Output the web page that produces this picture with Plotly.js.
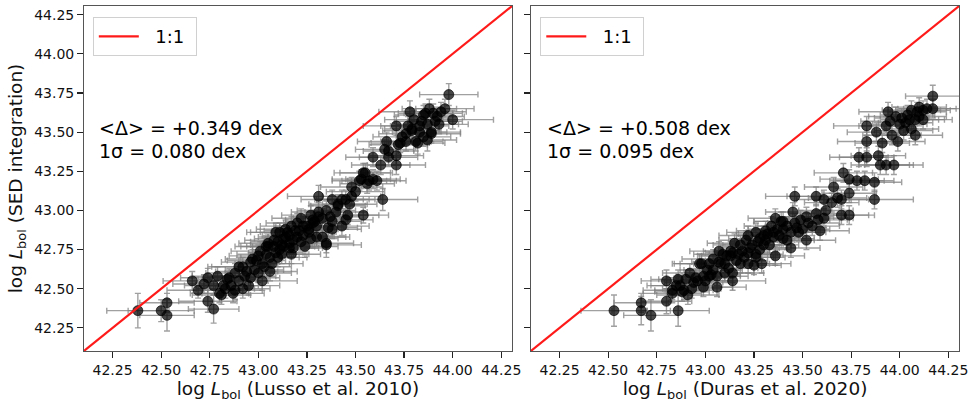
<!DOCTYPE html>
<html>
<head>
<meta charset="utf-8">
<script src="https://cdn.plot.ly/plotly-3.0.1.min.js"></script>
<style>
  html, body { margin: 0; padding: 0; background: #fff; }
  #plot { width: 977px; height: 408px; }
</style>
</head>
<body>
<div id="plot"></div>
<script>
// left panel: Lusso et al. 2010 vs SED integration
const xLusso = [
  42.38, 42.50, 42.53, 42.53, 42.74, 42.77, 42.66, 42.74, 42.79, 42.69,
  42.81, 42.88, 42.95, 43.02, 42.84, 42.90, 42.97, 43.00, 43.04, 43.09,
  43.14, 43.17, 43.22, 43.24, 43.28, 43.31, 43.31, 43.35, 43.38, 43.41,
  43.45, 43.48, 43.45, 43.54, 43.53, 43.59, 43.55, 43.64, 43.63, 43.59,
  43.71, 43.67, 43.66, 43.71, 43.71, 43.73, 43.76, 43.78, 43.79, 43.82,
  43.83, 43.86, 43.87, 43.88, 43.89, 43.92, 43.94, 43.96, 43.98, 44.00,
  43.91, 43.85, 43.83, 43.72, 43.76, 43.65, 43.57, 43.61, 43.52, 43.38,
  43.41, 43.47, 43.48, 43.46, 43.35, 43.31, 43.38, 43.43, 43.23, 43.19,
  43.26, 43.16, 43.11, 43.12, 43.08, 43.05, 43.04, 43.09, 42.96, 42.92,
  42.88, 42.85, 43.18, 43.35, 43.30, 42.93, 42.80, 42.82, 43.05, 43.11,
  43.13, 43.16, 43.17, 43.25, 43.29, 43.33, 43.36, 43.28, 43.54, 43.79,
  43.89, 43.81, 43.67, 42.98, 43.02, 43.06, 42.86, 42.90, 43.12, 43.20,
  43.26, 43.14, 43.22,
  42.83, 42.87, 42.92, 42.96, 43.00, 43.03, 43.01, 43.07, 43.08, 43.10,
  43.13, 43.15, 43.18, 43.21, 43.23, 43.27, 43.30, 43.33, 43.20, 43.10,
  42.99, 42.94, 43.06, 43.16, 43.27, 43.37, 43.40, 43.43, 43.50, 43.56,
  43.80, 43.84, 43.87, 43.90, 43.77, 43.74, 43.85, 43.93, 42.72, 42.77
];
const ySedLusso = [
  42.36, 42.36, 42.41, 42.33, 42.42, 42.37, 42.55, 42.57, 42.58, 42.49,
  42.46, 42.49, 42.52, 42.55, 42.56, 42.64, 42.69, 42.71, 42.77, 42.86,
  42.83, 42.90, 42.95, 42.77, 42.92, 42.99, 43.09, 42.78, 42.88, 43.03,
  43.07, 43.15, 42.94, 42.97, 43.20, 43.20, 43.24, 43.07, 43.29, 43.34,
  43.29, 43.38, 43.44, 43.35, 43.54, 43.43, 43.49, 43.63, 43.51, 43.43,
  43.54, 43.62, 43.45, 43.65, 43.50, 43.60, 43.63, 43.65, 43.74, 43.58,
  43.57, 43.61, 43.50, 43.42, 43.44, 43.39, 43.19, 43.19, 43.19, 43.07,
  43.04, 43.04, 43.09, 42.97, 43.00, 42.96, 42.93, 42.90, 42.90, 42.87,
  42.88, 42.84, 42.86, 42.78, 42.81, 42.77, 42.72, 42.73, 42.67, 42.64,
  42.60, 42.57, 42.76, 42.79, 42.83, 42.58, 42.47, 42.52, 42.79, 42.75,
  42.82, 42.79, 42.72, 42.90, 42.93, 42.83, 42.89, 42.94, 43.24, 43.52,
  43.49, 43.44, 43.34, 42.62, 42.66, 42.70, 42.52, 42.55, 42.72, 42.83,
  42.86, 42.88, 42.80,
  42.50, 42.47, 42.50, 42.57, 42.60, 42.64, 42.74, 42.66, 42.77, 42.70,
  42.77, 42.86, 42.81, 42.87, 42.84, 42.97, 42.90, 42.95, 42.92, 42.80,
  42.68, 42.61, 42.61, 42.76, 42.82, 42.96, 42.99, 43.07, 43.12, 43.17,
  43.58, 43.57, 43.55, 43.62, 43.54, 43.47, 43.47, 43.55, 42.53, 42.52
];
const xErrLusso = [
  0.16, 0.17, 0.14, 0.14, 0.15, 0.13, 0.15, 0.14, 0.13, 0.16,
  0.15, 0.14, 0.16, 0.18, 0.15, 0.16, 0.14, 0.15, 0.16, 0.15,
  0.14, 0.16, 0.15, 0.17, 0.15, 0.14, 0.16, 0.18, 0.15, 0.14,
  0.15, 0.16, 0.14, 0.13, 0.15, 0.14, 0.13, 0.18, 0.15, 0.14,
  0.15, 0.13, 0.15, 0.14, 0.17, 0.15, 0.14, 0.16, 0.15, 0.14,
  0.15, 0.14, 0.15, 0.14, 0.15, 0.14, 0.13, 0.15, 0.15, 0.21,
  0.14, 0.15, 0.14, 0.15, 0.13, 0.15, 0.14, 0.15, 0.14, 0.16,
  0.15, 0.14, 0.15, 0.16, 0.15, 0.14, 0.15, 0.14, 0.15, 0.16,
  0.15, 0.14, 0.15, 0.16, 0.15, 0.14, 0.15, 0.14, 0.15, 0.16,
  0.15, 0.14, 0.15, 0.14, 0.15, 0.16, 0.15, 0.14, 0.15, 0.14,
  0.15, 0.14, 0.15, 0.14, 0.15, 0.14, 0.15, 0.14, 0.15, 0.14,
  0.15, 0.14, 0.15, 0.15, 0.14, 0.15, 0.14, 0.15, 0.14, 0.15,
  0.14, 0.15, 0.14,
  0.15, 0.16, 0.14, 0.15, 0.17, 0.14, 0.15, 0.16, 0.14, 0.15,
  0.16, 0.14, 0.15, 0.14, 0.16, 0.15, 0.14, 0.15, 0.16, 0.14,
  0.15, 0.16, 0.14, 0.15, 0.14, 0.15, 0.16, 0.14, 0.15, 0.14,
  0.15, 0.14, 0.16, 0.15, 0.14, 0.15, 0.14, 0.15, 0.16, 0.15
];
const yErrLusso = [
  0.11, 0.07, 0.06, 0.10, 0.07, 0.09, 0.06, 0.06, 0.06, 0.05,
  0.06, 0.06, 0.06, 0.06, 0.05, 0.06, 0.06, 0.07, 0.06, 0.06,
  0.05, 0.06, 0.06, 0.07, 0.06, 0.06, 0.07, 0.08, 0.06, 0.06,
  0.06, 0.06, 0.06, 0.05, 0.06, 0.06, 0.06, 0.07, 0.06, 0.06,
  0.06, 0.06, 0.06, 0.06, 0.06, 0.06, 0.06, 0.07, 0.06, 0.07,
  0.06, 0.06, 0.07, 0.06, 0.06, 0.06, 0.06, 0.06, 0.07, 0.06,
  0.06, 0.06, 0.06, 0.06, 0.06, 0.06, 0.06, 0.06, 0.06, 0.06,
  0.06, 0.06, 0.06, 0.06, 0.06, 0.06, 0.06, 0.06, 0.06, 0.06,
  0.06, 0.06, 0.06, 0.06, 0.06, 0.06, 0.06, 0.06, 0.06, 0.06,
  0.06, 0.06, 0.06, 0.06, 0.06, 0.06, 0.06, 0.06, 0.06, 0.06,
  0.06, 0.06, 0.06, 0.06, 0.06, 0.06, 0.06, 0.06, 0.06, 0.06,
  0.06, 0.06, 0.06, 0.06, 0.06, 0.06, 0.06, 0.06, 0.06, 0.06,
  0.06, 0.06, 0.06,
  0.06, 0.06, 0.06, 0.06, 0.06, 0.06, 0.06, 0.06, 0.06, 0.06,
  0.06, 0.06, 0.06, 0.06, 0.06, 0.06, 0.06, 0.06, 0.06, 0.06,
  0.06, 0.06, 0.06, 0.06, 0.06, 0.06, 0.06, 0.06, 0.06, 0.06,
  0.06, 0.06, 0.06, 0.06, 0.06, 0.06, 0.06, 0.06, 0.06, 0.06
];

// right panel: Duras et al. 2020 vs SED integration
const xDuras = [
  42.53, 42.67, 42.67, 42.72, 42.80, 42.86, 42.80, 42.83, 42.86, 42.89,
  42.91, 42.94, 42.98, 42.99, 43.02, 43.06, 43.08, 43.10, 43.14, 43.13,
  43.15, 43.18, 43.21, 43.22, 43.25, 43.26, 43.28, 43.31, 43.36, 43.36,
  43.35, 43.40, 43.42, 43.44, 43.45, 43.46, 43.48, 43.49, 43.52, 43.52,
  43.55, 43.57, 43.57, 43.59, 43.61, 43.61, 43.65, 43.66, 43.70, 43.71,
  43.70, 43.74, 43.74, 43.74, 43.78, 43.82, 43.87, 43.87, 43.79, 43.83,
  43.83, 43.83, 43.89, 43.90, 43.93, 43.97, 43.91, 43.88, 43.93, 43.96,
  43.99, 43.94, 43.98, 44.02, 44.03, 44.06, 44.04, 44.08, 44.08, 44.09,
  44.12, 44.14, 44.17, 44.17, 44.01, 43.39, 43.31, 43.35, 43.11, 43.13,
  43.17, 43.22, 43.29, 42.97, 43.02, 43.07, 43.03, 42.99, 42.95, 42.90,
  42.83, 42.88, 42.87, 43.14, 43.07, 43.01, 43.24, 43.30, 43.33, 43.38,
  43.42, 43.46, 43.20, 43.27,
  42.93, 42.96, 43.00, 43.04, 43.06, 43.10, 43.12, 43.16, 43.19, 43.23,
  43.26, 43.28, 43.32, 43.34, 43.37, 43.40, 43.44, 43.47, 43.50, 43.53,
  43.22, 43.18, 43.09, 43.04, 42.92, 42.85, 43.30, 43.40, 44.00, 44.05,
  44.10, 44.12, 44.06, 43.95, 44.10, 43.58, 43.62, 43.68, 43.14, 43.26
];
const ySedDuras = [
  42.36, 42.41, 42.36, 42.33, 42.42, 42.36, 42.55, 42.47, 42.56, 42.49,
  42.46, 42.54, 42.66, 42.51, 42.58, 42.51, 42.66, 42.60, 42.55, 42.71,
  42.79, 42.66, 42.81, 42.73, 42.65, 42.86, 42.75, 42.81, 42.95, 42.71,
  42.86, 42.88, 42.81, 42.76, 42.99, 43.09, 42.86, 42.94, 42.96, 42.81,
  42.90, 43.09, 42.98, 42.87, 43.07, 42.95, 43.05, 43.15, 43.07, 43.24,
  42.97, 42.97, 43.11, 43.20, 43.19, 43.19, 43.07, 43.18, 43.34, 43.34,
  43.44, 43.54, 43.35, 43.29, 43.29, 43.29, 43.43, 43.50, 43.54, 43.48,
  43.44, 43.63, 43.60, 43.51, 43.56, 43.64, 43.61, 43.58, 43.48, 43.63,
  43.64, 43.65, 43.73, 43.65, 43.59, 42.93, 42.87, 42.83, 42.71, 42.74,
  42.72, 42.66, 42.66, 42.66, 42.66, 42.67, 42.59, 42.58, 42.57, 42.56,
  42.49, 42.48, 42.52, 42.73, 42.74, 42.62, 42.78, 42.84, 42.78, 42.84,
  42.90, 42.92, 42.70, 42.80,
  42.50, 42.55, 42.55, 42.62, 42.58, 42.66, 42.63, 42.68, 42.74, 42.76,
  42.72, 42.82, 42.85, 42.90, 42.88, 42.82, 42.86, 42.89, 42.88, 42.92,
  42.84, 42.78, 42.72, 42.69, 42.60, 42.52, 42.78, 42.93, 43.55, 43.58,
  43.60, 43.58, 43.52, 43.57, 43.66, 42.94, 43.00, 43.08, 42.60, 42.70
];
const xErrDuras = [
  0.17, 0.14, 0.15, 0.14, 0.13, 0.16, 0.13, 0.15, 0.14, 0.15,
  0.16, 0.15, 0.14, 0.15, 0.16, 0.15, 0.14, 0.15, 0.17, 0.15,
  0.14, 0.15, 0.14, 0.15, 0.14, 0.15, 0.14, 0.15, 0.14, 0.15,
  0.14, 0.15, 0.14, 0.15, 0.14, 0.15, 0.14, 0.15, 0.14, 0.15,
  0.14, 0.15, 0.14, 0.15, 0.14, 0.15, 0.14, 0.15, 0.14, 0.15,
  0.14, 0.13, 0.14, 0.15, 0.14, 0.15, 0.20, 0.14, 0.15, 0.14,
  0.15, 0.17, 0.14, 0.15, 0.14, 0.15, 0.14, 0.15, 0.14, 0.15,
  0.14, 0.15, 0.14, 0.15, 0.14, 0.15, 0.14, 0.15, 0.14, 0.15,
  0.14, 0.15, 0.14, 0.15, 0.14, 0.14, 0.15, 0.14, 0.15, 0.14,
  0.15, 0.14, 0.15, 0.14, 0.15, 0.14, 0.15, 0.14, 0.15, 0.14,
  0.15, 0.14, 0.15, 0.14, 0.15, 0.14, 0.15, 0.14, 0.15, 0.14,
  0.15, 0.14, 0.15, 0.14,
  0.15, 0.16, 0.14, 0.15, 0.16, 0.14, 0.15, 0.16, 0.14, 0.15,
  0.14, 0.16, 0.15, 0.14, 0.15, 0.16, 0.14, 0.15, 0.14, 0.16,
  0.15, 0.14, 0.15, 0.16, 0.14, 0.15, 0.14, 0.15, 0.14, 0.15,
  0.14, 0.15, 0.14, 0.15, 0.14, 0.15, 0.14, 0.15, 0.16, 0.15
];
const yErrDuras = [
  0.10, 0.06, 0.09, 0.10, 0.08, 0.10, 0.07, 0.06, 0.06, 0.06,
  0.06, 0.06, 0.06, 0.06, 0.06, 0.06, 0.06, 0.06, 0.06, 0.06,
  0.06, 0.06, 0.06, 0.06, 0.06, 0.06, 0.06, 0.06, 0.06, 0.06,
  0.06, 0.06, 0.06, 0.06, 0.06, 0.06, 0.06, 0.06, 0.06, 0.06,
  0.06, 0.06, 0.06, 0.06, 0.06, 0.06, 0.06, 0.06, 0.06, 0.06,
  0.06, 0.06, 0.06, 0.06, 0.06, 0.06, 0.06, 0.06, 0.06, 0.06,
  0.06, 0.06, 0.06, 0.06, 0.06, 0.06, 0.06, 0.06, 0.06, 0.06,
  0.06, 0.06, 0.06, 0.06, 0.06, 0.06, 0.06, 0.06, 0.06, 0.06,
  0.06, 0.06, 0.07, 0.06, 0.06, 0.06, 0.06, 0.06, 0.06, 0.06,
  0.06, 0.06, 0.06, 0.06, 0.06, 0.06, 0.06, 0.06, 0.06, 0.06,
  0.06, 0.06, 0.06, 0.06, 0.06, 0.06, 0.06, 0.06, 0.06, 0.06,
  0.06, 0.06, 0.06, 0.06,
  0.06, 0.06, 0.06, 0.06, 0.06, 0.06, 0.06, 0.06, 0.06, 0.06,
  0.06, 0.06, 0.06, 0.06, 0.06, 0.06, 0.06, 0.06, 0.06, 0.06,
  0.06, 0.06, 0.06, 0.06, 0.06, 0.06, 0.06, 0.06, 0.06, 0.06,
  0.06, 0.06, 0.06, 0.06, 0.06, 0.06, 0.06, 0.06, 0.06, 0.06
];

const oneToOne = [42.0, 44.4];
const tickVals = [42.25, 42.50, 42.75, 43.00, 43.25, 43.50, 43.75, 44.00, 44.25];
const statsLusso = ['&lt;Δ&gt; = +0.349 dex', '1σ = 0.080 dex'];
const statsDuras = ['&lt;Δ&gt; = +0.508 dex', '1σ = 0.095 dex'];

const FONT = 'DejaVu Sans, sans-serif';
const axisRange = [42.103, 44.305];

function pointsTrace(x, y, ex, ey, xa, ya) {
  return {
    x: x, y: y,
    xaxis: xa, yaxis: ya,
    type: 'scatter', mode: 'markers',
    showlegend: false,
    marker: { size: 10, color: 'rgba(0,0,0,0.72)', line: { width: 0.8, color: 'rgba(0,0,0,0.8)' } },
    error_x: { type: 'data', array: ex, color: 'rgba(128,128,128,0.75)', thickness: 1.4, width: 3 },
    error_y: { type: 'data', array: ey, color: 'rgba(128,128,128,0.75)', thickness: 1.4, width: 3 }
  };
}

function lineTrace(xa, ya, legend) {
  return {
    x: oneToOne, y: oneToOne,
    xaxis: xa, yaxis: ya,
    type: 'scatter', mode: 'lines',
    name: '\u00a0\u00a01:1\u00a0', legend: legend,
    line: { color: '#ff1a1a', width: 2.2 }
  };
}

function xAxis(domain, title, anchor) {
  return {
    domain: domain, anchor: anchor, range: axisRange,
    tickvals: tickVals, tickformat: '.2f',
    ticks: 'outside', ticklen: 6, tickwidth: 1.2, tickcolor: '#222',
    tickfont: { family: FONT, size: 14, color: '#111' },
    showgrid: false, zeroline: false,
    showline: true, mirror: true, linecolor: '#555', linewidth: 1,
    automargin: false,
    title: { text: title, font: { family: FONT, size: 18.5, color: '#111' }, standoff: 3 }
  };
}

function yAxis(anchor, labels, title) {
  const ax = {
    domain: [0.14, 0.985], anchor: anchor, range: axisRange,
    tickvals: tickVals, tickformat: '.2f', showticklabels: labels,
    ticks: 'outside', ticklen: 6, tickwidth: 1.2, tickcolor: '#222',
    tickfont: { family: FONT, size: 14, color: '#111' },
    showgrid: false, zeroline: false,
    showline: true, mirror: true, linecolor: '#555', linewidth: 1,
    automargin: false
  };
  if (title) ax.title = { text: title, font: { family: FONT, size: 18.5, color: '#111' }, standoff: 6 };
  return ax;
}

function statNotes(lines, xPaper) {
  return lines.map((t, i) => ({
    xref: 'paper', yref: 'paper',
    x: xPaper, y: i === 0 ? 0.686 : 0.630,
    xanchor: 'left', yanchor: 'middle',
    text: t, showarrow: false,
    font: { family: FONT, size: 19, color: '#000' }
  }));
}

function legendBox(x) {
  return {
    x: x, y: 0.958, xanchor: 'left', yanchor: 'top',
    bgcolor: 'rgba(255,255,255,0.9)', bordercolor: '#d0d0d0', borderwidth: 1,
    font: { family: FONT, size: 18, color: '#000' },
    itemwidth: 40
  };
}

const data = [
  pointsTrace(xLusso, ySedLusso, xErrLusso, yErrLusso, 'x', 'y'),
  lineTrace('x', 'y', 'legend'),
  pointsTrace(xDuras, ySedDuras, xErrDuras, yErrDuras, 'x2', 'y2'),
  lineTrace('x2', 'y2', 'legend2')
];

const layout = {
  width: 977, height: 408,
  margin: { l: 0, r: 0, t: 0, b: 0 },
  paper_bgcolor: '#fff', plot_bgcolor: '#fff',
  font: { family: FONT },
  xaxis: xAxis([0.086, 0.524], 'log <i>L</i><sub>bol</sub> (Lusso et al. 2010)', 'y'),
  yaxis: yAxis('x', true, 'log <i>L</i><sub>bol</sub> (SED integration)'),
  xaxis2: xAxis([0.5435, 0.9816], 'log <i>L</i><sub>bol</sub> (Duras et al. 2020)', 'y2'),
  yaxis2: yAxis('x2', false, null),
  legend: legendBox(0.095),
  legend2: legendBox(0.553),
  annotations: statNotes(statsLusso, 0.0995).concat(statNotes(statsDuras, 0.558))
};

Plotly.newPlot('plot', data, layout, { displayModeBar: false, staticPlot: true });
</script>
</body>
</html>
